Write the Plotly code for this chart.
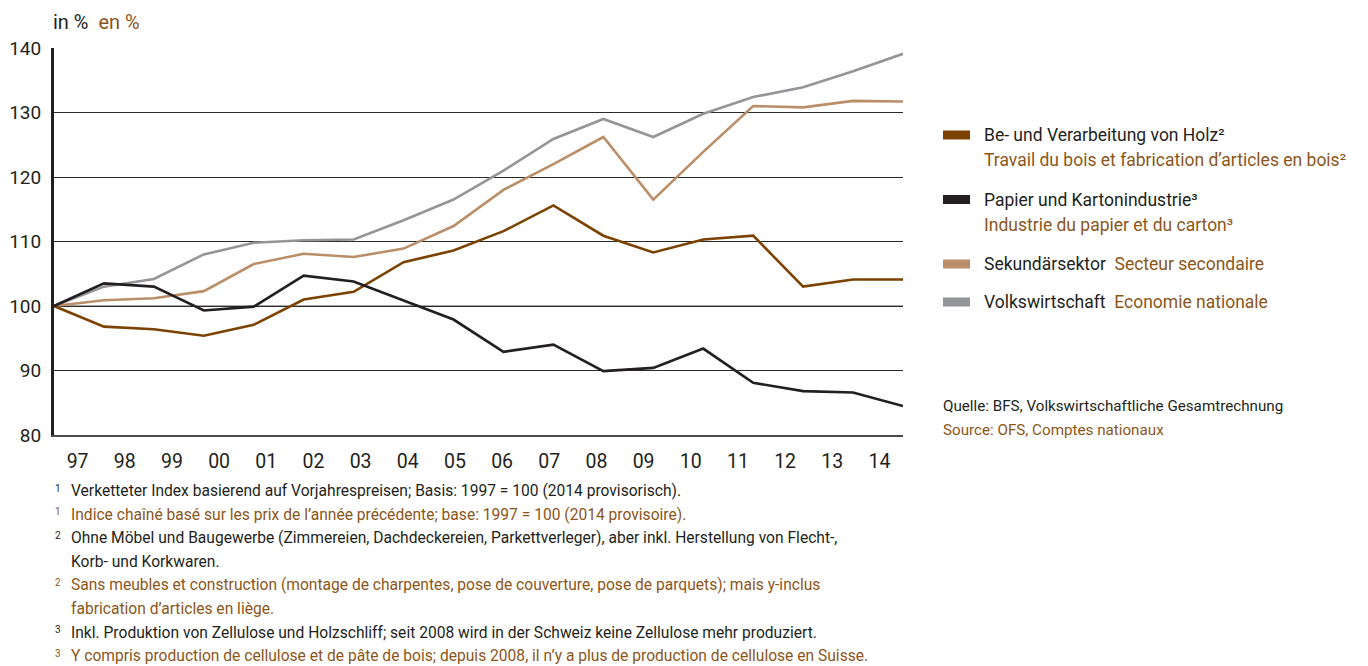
import plotly.graph_objects as go

# Years (two-digit labels) and chained volume indices, 1997 = 100
years = ["97", "98", "99", "00", "01", "02", "03", "04", "05",
         "06", "07", "08", "09", "10", "11", "12", "13", "14"]

holz = [100, 96.8, 96.4, 95.4, 97.1, 101.0, 102.2, 106.8, 108.6,
        111.6, 115.6, 110.9, 108.3, 110.3, 110.9, 103.0, 104.1, 104.1]
papier = [100, 103.5, 103.0, 99.3, 99.9, 104.7, 103.8, 100.8, 97.9,
          92.9, 94.0, 89.9, 90.4, 93.4, 88.1, 86.8, 86.6, 84.5]
sekundaer = [100, 100.9, 101.2, 102.3, 106.5, 108.1, 107.6, 108.9, 112.4,
             118.0, 122.0, 126.2, 116.5, 123.9, 131.0, 130.8, 131.8, 131.7]
volkswirtschaft = [100, 103.0, 104.2, 108.0, 109.8, 110.2, 110.3, 113.3, 116.5,
                   121.0, 125.9, 129.0, 126.2, 129.8, 132.4, 133.9, 136.4, 139.1]

y_ticks = [80, 90, 100, 110, 120, 130, 140]

C_HOLZ = "#7B4200"
C_PAPIER = "#231F20"
C_SEK = "#BA8E68"
C_VW = "#939598"
C_TEXT = "#231F20"
C_FR = "#8C561A"
FONT = "Roboto, Arial, sans-serif"

xs = list(range(len(years)))
n = len(years)

series = [
    ("Volkswirtschaft", volkswirtschaft, C_VW),
    ("Sekundärsektor", sekundaer, C_SEK),
    ("Be- und Verarbeitung von Holz", holz, C_HOLZ),
    ("Papier und Kartonindustrie", papier, C_PAPIER),
]

fig = go.Figure()
for name, vals, col in series:
    fig.add_trace(go.Scatter(
        x=xs, y=vals, mode="lines", name=name,
        line=dict(color=col, width=2.6),
        showlegend=False, hoverinfo="x+y",
    ))

# year labels sit centred in equal bands across the plotting width
band = (n - 1) / n
tickpos = [(i + 0.5) * band for i in range(n)]

# plot area in pixels
PL, PR, PT, PB = 54, 903, 48, 435
PW, PH = PR - PL, PB - PT


def px(x):
    return (x - PL) / PW


def py(y):
    return 1 - (y - PT) / PH


fig.update_layout(
    width=1368, height=666,
    margin=dict(l=PL, r=1368 - PR, t=PT, b=666 - PB, autoexpand=False),
    paper_bgcolor="white", plot_bgcolor="white",
    font=dict(family=FONT, color=C_TEXT),
    xaxis=dict(
        range=[0, n - 1], tickmode="array", tickvals=tickpos, ticktext=years,
        showgrid=False, zeroline=False, ticks="", automargin=False,
        showline=True, linecolor="#4a4a4a", linewidth=2,
        tickfont=dict(size=19.5, color=C_TEXT, family=FONT),
        ticklabelstandoff=8,
    ),
    yaxis=dict(
        range=[80, 140], tickmode="array", tickvals=y_ticks,
        showgrid=True, gridcolor="#2b2b2b", gridwidth=1,
        zeroline=False, ticks="", automargin=False,
        showline=True, linecolor="#231F20", linewidth=3,
        tickfont=dict(size=19, color=C_TEXT, family=FONT),
        ticklabelstandoff=6,
    ),
)

# the 100 baseline is drawn in grey
fig.add_shape(type="line", xref="paper", yref="y", x0=0, x1=1, y0=100, y1=100,
              line=dict(color="#8a8a8a", width=1.6), layer="below")

# unit label
fig.add_annotation(xref="paper", yref="paper", x=px(51), y=py(22),
                   xanchor="left", yanchor="middle", showarrow=False,
                   text=f"in %  <span style='color:{C_FR}'>en %</span>",
                   font=dict(size=20, color=C_TEXT, family=FONT))

# legend: swatches and bilingual labels
legend_rows = [
    (C_HOLZ, 135, "Be- und Verarbeitung von Holz²", 160, "Travail du bois et fabrication d’articles en bois²"),
    (C_PAPIER, 199.5, "Papier und Kartonindustrie³", 225, "Industrie du papier et du carton³"),
    (C_SEK, 264, "Sekundärsektor", None, "Secteur secondaire"),
    (C_VW, 302, "Volkswirtschaft", None, "Economie nationale"),
]
for col, ypx, de, ypx2, fr in legend_rows:
    fig.add_shape(type="rect", xref="paper", yref="paper",
                  x0=px(943), x1=px(970),
                  y0=py(ypx + 4.5), y1=py(ypx - 4.5),
                  line=dict(width=0), fillcolor=col)
    if ypx2 is None:
        txt = f"{de}  <span style='color:{C_FR}'>{fr}</span>"
    else:
        txt = de
    fig.add_annotation(xref="paper", yref="paper", x=px(982), y=py(ypx),
                       xanchor="left", yanchor="middle", showarrow=False,
                       text=txt, font=dict(size=17.5, color=C_TEXT, family=FONT))
    if ypx2 is not None:
        fig.add_annotation(xref="paper", yref="paper", x=px(982), y=py(ypx2),
                           xanchor="left", yanchor="middle", showarrow=False,
                           text=fr, font=dict(size=17.5, color=C_FR, family=FONT))

# source
for ypx, txt, col in [(406, "Quelle: BFS, Volkswirtschaftliche Gesamtrechnung", C_TEXT),
                      (430, "Source: OFS, Comptes nationaux", C_FR)]:
    fig.add_annotation(xref="paper", yref="paper", x=px(941), y=py(ypx),
                       xanchor="left", yanchor="middle", showarrow=False,
                       text=txt, font=dict(size=15.2, color=col, family=FONT))

# footnotes
notes = [
    ("1", "Verketteter Index basierend auf Vorjahrespreisen; Basis: 1997 = 100 (2014 provisorisch).", C_TEXT),
    ("1", "Indice chaîné basé sur les prix de l’année précédente; base: 1997 = 100 (2014 provisoire).", C_FR),
    ("2", "Ohne Möbel und Baugewerbe (Zimmereien, Dachdeckereien, Parkettverleger), aber inkl. Herstellung von Flecht-,", C_TEXT),
    (None, "Korb- und Korkwaren.", C_TEXT),
    ("2", "Sans meubles et construction (montage de charpentes, pose de couverture, pose de parquets); mais y-inclus", C_FR),
    (None, "fabrication d’articles en liège.", C_FR),
    ("3", "Inkl. Produktion von Zellulose und Holzschliff; seit 2008 wird in der Schweiz keine Zellulose mehr produziert.", C_TEXT),
    ("3", "Y compris production de cellulose et de pâte de bois; depuis 2008, il n’y a plus de production de cellulose en Suisse.", C_FR),
]
for i, (mark, txt, col) in enumerate(notes):
    ypx = 491 + i * 23.6
    if mark:
        fig.add_annotation(xref="paper", yref="paper", x=px(53), y=py(ypx),
                           yshift=3, xanchor="left", yanchor="middle", showarrow=False,
                           text=mark, font=dict(size=10, color=col, family=FONT))
    fig.add_annotation(xref="paper", yref="paper", x=px(69), y=py(ypx),
                       xanchor="left", yanchor="middle", showarrow=False,
                       text=txt, font=dict(size=15.6, color=col, family=FONT))

fig.write_html("out.html")
